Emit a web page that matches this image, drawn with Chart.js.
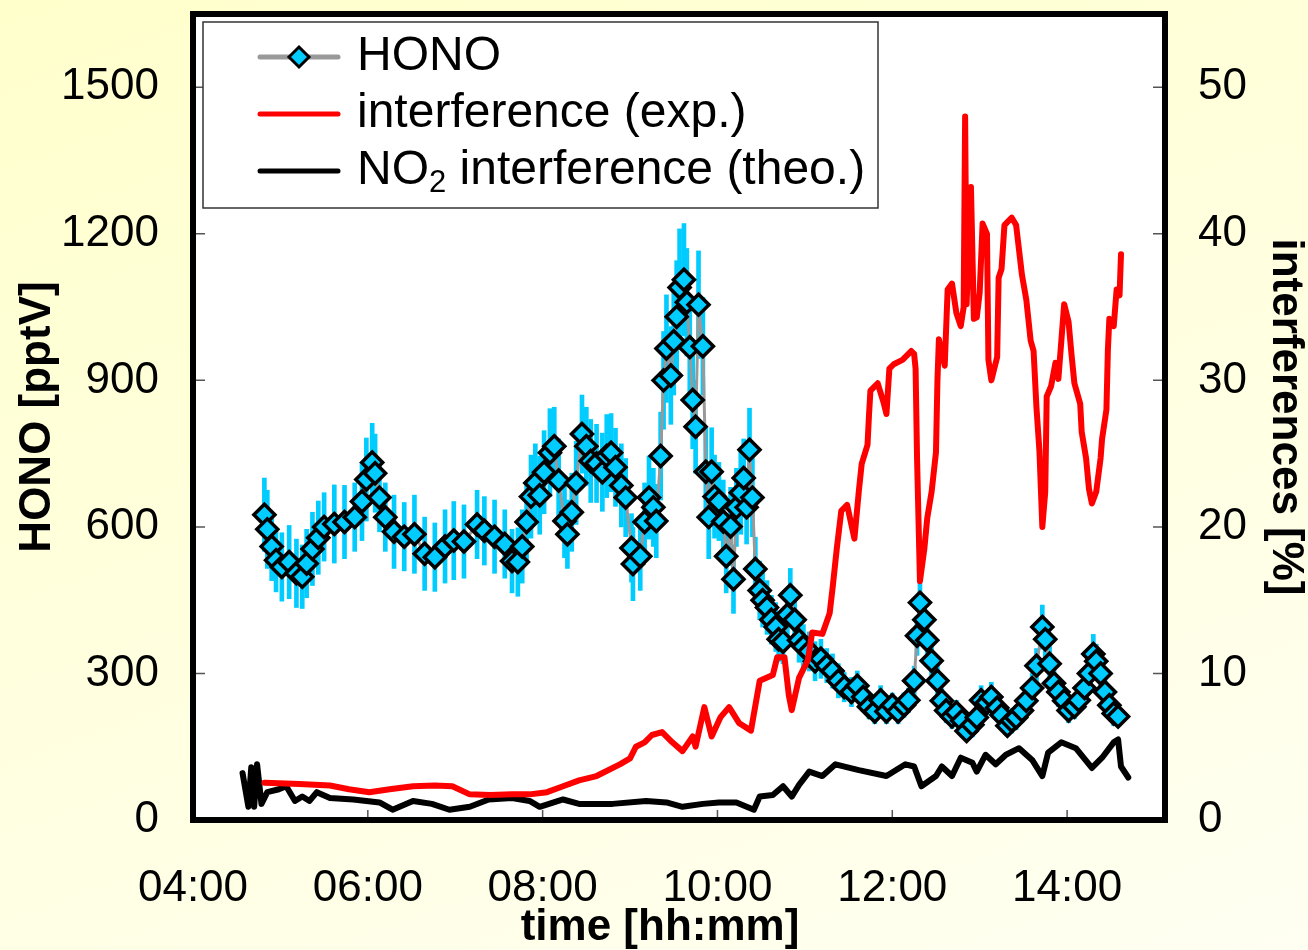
<!DOCTYPE html>
<html>
<head>
<meta charset="utf-8">
<script src="https://cdn.jsdelivr.net/npm/chart.js@4.4.0/dist/chart.umd.min.js"></script>
<style>
body { margin: 0; background: linear-gradient(160deg, #ffffcc 0%, #fffff2 100%); }
#wrap { width: 1308px; height: 950px; position: relative; }
</style>
</head>
<body>
<div id="wrap"><canvas id="myChart"></canvas></div>
<script>
// HONO [pptV] with error bars (left axis)
var honoTime = [
  "04:49","04:51","04:54","04:57","05:01","05:06","05:11","05:15","05:18","05:22",
  "05:26","05:30","05:37","05:44","05:51","05:56","05:59","06:03","06:05","06:08",
  "06:12","06:18","06:25","06:32","06:39","06:46","06:53","06:59","07:06","07:15",
  "07:20","07:27","07:34","07:39","07:43","07:46","07:49","07:52","07:55","07:58",
  "08:01","08:05","08:08","08:11","08:15","08:17","08:20","08:23","08:27","08:30",
  "08:33","08:37","08:41","08:44","08:47","08:50","08:54","08:57","09:01","09:02",
  "09:07","09:10","09:13","09:16","09:18","09:21","09:23","09:25","09:28","09:30",
  "09:32","09:34","09:37","09:39","09:41","09:43","09:45","09:47","09:50","09:52",
  "09:54","09:56","09:58","10:01","10:04","10:06","10:09","10:11","10:13","10:16",
  "10:18","10:20","10:22","10:24","10:26","10:29","10:31","10:34","10:37","10:40",
  "10:42","10:45","10:48","10:50","10:53","10:56","10:59","11:03","11:07","11:11",
  "11:15","11:19","11:23","11:27","11:32","11:36","11:40","11:44","11:48","11:52",
  "11:56","12:00","12:04","12:08","12:11","12:15","12:17","12:19","12:22","12:24",
  "12:27","12:31","12:34","12:37","12:41","12:44","12:48","12:51","12:55","12:58",
  "13:01","13:05","13:08","13:12","13:15","13:19","13:22","13:25","13:29","13:32",
  "13:36","13:39","13:43","13:45","13:48","13:51","13:54","13:58","14:01","14:05",
  "14:08","14:12","14:15","14:18","14:20","14:23","14:26","14:29","14:32","14:35"
];
var honoVal = [
  625, 595, 560, 532, 518, 528, 505, 498, 525, 555,
  578, 600, 606, 610, 620, 652, 697, 732, 710, 660,
  620, 590, 580, 585, 545, 538, 560, 572, 570, 605,
  592, 580, 565, 530, 528, 560, 610, 662, 690, 665,
  712, 752, 765, 695, 612, 585, 630, 690, 790, 765,
  735, 730, 712, 745, 752, 722, 685, 660, 557, 524,
  540, 610, 660, 640, 612, 745, 900, 965, 910, 980,
  1030, 1090, 1106, 1060, 968, 860, 805, 1055, 970, 713,
  620, 713, 662, 652, 611, 540, 601, 493, 640, 670,
  700, 640, 758, 660, 514, 470, 450, 435, 410, 395,
  370, 365, 420, 460, 410, 368, 355, 345, 325, 330,
  316, 305, 285, 272, 262, 275, 252, 232, 222, 245,
  222, 235, 222, 235, 245, 285, 377, 445, 410, 368,
  326, 285, 244, 224, 212, 220, 203, 182, 195, 210,
  245, 240, 252, 230, 215, 193, 203, 210, 224, 244,
  270, 316, 395, 370, 320, 280, 262, 244, 224, 232,
  245, 270, 300, 340, 325, 300, 262, 235, 218, 212
];
var honoErr = [
  75, 80, 70, 65, 70, 75, 70, 65, 70, 75,
  75, 70, 80, 75, 70, 80, 85, 80, 80, 70,
  70, 75, 70, 80, 75, 70, 75, 80, 75, 70,
  70, 75, 70, 65, 70, 75, 80, 85, 80, 80,
  85, 90, 80, 85, 75, 70, 80, 85, 80, 80,
  85, 80, 80, 85, 80, 80, 85, 80, 70, 75,
  70, 80, 85, 80, 75, 90, 100, 110, 100, 110,
  115, 120, 115, 110, 105, 100, 95, 110, 100, 90,
  85, 90, 85, 80, 85, 75, 80, 70, 80, 85,
  80, 75, 85, 80, 65, 60, 55, 55, 50, 50,
  45, 45, 50, 55, 50, 45, 45, 40, 40, 40,
  35, 35, 35, 30, 30, 30, 30, 25, 25, 30,
  25, 25, 25, 25, 25, 30, 40, 45, 40, 35,
  30, 30, 25, 25, 25, 25, 25, 20, 25, 25,
  30, 25, 30, 25, 25, 20, 25, 25, 25, 30,
  30, 35, 45, 40, 35, 30, 30, 25, 25, 25,
  25, 30, 35, 40, 35, 30, 30, 25, 25, 20
];

// interference (exp.) [%] (right axis)
var expTime = [
  "04:49","04:59","05:13","05:34","05:47","06:01","06:15","06:31","06:46","06:58",
  "07:10","07:24","07:39","07:51","08:03","08:14","08:25","08:37","08:53","09:00",
  "09:04","09:10","09:15","09:22","09:29","09:36","09:43","09:45","09:51","09:56",
  "10:02","10:08","10:15","10:23","10:29","10:38","10:41","10:46","10:49","10:51",
  "10:56","11:02","11:05","11:12","11:17","11:19","11:22","11:25","11:29","11:34",
  "11:37","11:39","11:43","11:44","11:45","11:50","11:54","11:56","11:58","12:01",
  "12:07","12:13","12:15","12:16","12:17","12:19","12:22","12:24","12:27","12:30",
  "12:31","12:32","12:36","12:38","12:41","12:44","12:47","12:49","12:50","12:51",
  "12:54","12:56","12:58","13:00","13:02","13:05","13:06","13:08","13:12","13:13",
  "13:15","13:17","13:22","13:25","13:29","13:32","13:35","13:37","13:39","13:41",
  "13:43","13:45","13:46","13:49","13:52","13:54","13:58","14:01","14:03","14:05",
  "14:09","14:10","14:13","14:15","14:17","14:20","14:23","14:24","14:27","14:28",
  "14:29","14:32","14:34","14:36","14:37"
];
var expVal = [
  2.55, 2.5, 2.45, 2.35, 2.1, 1.9, 2.1, 2.3, 2.35, 2.3,
  1.75, 1.7, 1.75, 1.75, 1.9, 2.3, 2.7, 3.0, 3.8, 4.2,
  5.0, 5.3, 5.8, 6.0, 5.3, 4.7, 5.7, 5.0, 7.7, 5.7,
  7.0, 7.7, 6.6, 6.1, 9.5, 9.9, 11.1, 11.1, 8.5, 7.5,
  9.7, 10.9, 12.8, 12.7, 14.1, 15.8, 18.6, 21.1, 21.5, 19.2,
  22.4, 24.3, 25.6, 27.6, 29.3, 29.8, 28.5, 27.7, 30.8, 31.1,
  31.4, 32.0, 31.8, 30.8, 24.7, 16.3, 18.5, 20.6, 22.4, 25.1,
  30.0, 32.8, 31.0, 36.2, 36.6, 34.6, 33.7, 35.0, 48.0, 35.2,
  43.2, 34.2, 34.3, 36.0, 40.7, 40.0, 31.4, 30.0, 31.6, 37.0,
  37.6, 40.6, 41.1, 40.6, 37.2, 35.5, 32.7, 32.0, 28.1, 25.2,
  20.0, 22.4, 28.9, 29.6, 31.2, 30.1, 35.2, 34.0, 31.8, 29.8,
  28.4, 26.5, 24.7, 22.6, 21.6, 22.4, 24.7, 26.0, 28.0, 32.1,
  34.2, 33.7, 36.2, 35.8, 38.6
];

// NO2 interference (theo.) [%] (right axis)
var theoTime = [
  "04:34","04:38","04:40","04:42","04:44","04:47","04:51","04:59","05:04","05:10",
  "05:15","05:20","05:25","05:34","05:50","06:08","06:17","06:31","06:44","06:56",
  "07:10","07:23","07:39","07:51","07:58","08:14","08:25","08:48","09:11","09:25",
  "09:36","09:50","10:01","10:13","10:25","10:29","10:38","10:45","10:51","10:56",
  "11:03","11:12","11:21","11:37","11:56","12:09","12:15","12:20","12:30","12:34",
  "12:41","12:47","12:55","12:58","13:04","13:11","13:18","13:27","13:36","13:43",
  "13:47","13:56","14:06","14:17","14:24","14:32","14:35","14:37","14:42"
];
var theoVal = [
  3.2, 0.9, 3.6, 0.9, 3.8, 1.1, 1.9, 2.1, 2.3, 1.3,
  1.6, 1.3, 1.9, 1.5, 1.4, 1.2, 0.7, 1.3, 1.1, 0.7,
  0.9, 1.4, 1.5, 1.3, 0.9, 1.4, 1.1, 1.1, 1.3, 1.2,
  0.9, 1.1, 1.2, 1.2, 0.7, 1.6, 1.7, 2.3, 1.6, 2.4,
  3.3, 3.0, 3.8, 3.4, 3.0, 3.8, 3.65, 2.3, 3.0, 3.65,
  3.0, 4.25, 3.9, 3.3, 4.45, 3.8, 4.45, 4.9, 4.1, 3.0,
  4.6, 5.3, 4.9, 3.55, 4.25, 5.3, 5.5, 3.65, 2.9
];

var xTicks = [4, 6, 8, 10, 12, 14];

function hm(s) {
  var p = s.split(':');
  return parseInt(p[0], 10) + parseInt(p[1], 10) / 60;
}
function fmt(v) {
  var h = Math.floor(v + 1e-6);
  var m = Math.round((v - h) * 60);
  return (h < 10 ? '0' : '') + h + ':' + (m < 10 ? '0' : '') + m;
}

var honoPts = honoTime.map(function (t, i) { return { x: hm(t), y: honoVal[i] }; });
var errPts = honoTime.map(function (t, i) { return { x: hm(t), y: [honoVal[i] - honoErr[i], honoVal[i] + honoErr[i]] }; });
var expPts = expTime.map(function (t, i) { return { x: hm(t), y: expVal[i] }; });
var theoPts = theoTime.map(function (t, i) { return { x: hm(t), y: theoVal[i] }; });

var FONT = '"Liberation Sans", Arial, sans-serif';

function noPad(s) {
  s.paddingTop = 0; s.paddingBottom = 0; s.paddingLeft = 0; s.paddingRight = 0;
}

var framePlugin = {
  id: 'frame',
  beforeDatasetsDraw: function (chart) {
    var a = chart.chartArea, c = chart.ctx;
    c.save();
    c.fillStyle = '#ffffff';
    c.fillRect(a.left, a.top, a.right - a.left, a.bottom - a.top);
    c.restore();
  },
  afterDraw: function (chart) {
    var a = chart.chartArea, c = chart.ctx;
    c.save();
    // inward tick marks
    c.strokeStyle = '#555';
    c.lineWidth = 1.5;
    c.beginPath();
    chart.scales.y.ticks.forEach(function (t) {
      var py = chart.scales.y.getPixelForValue(t.value);
      c.moveTo(a.left, py); c.lineTo(a.left + 12, py);
    });
    chart.scales.y2.ticks.forEach(function (t) {
      var py = chart.scales.y2.getPixelForValue(t.value);
      c.moveTo(a.right - 12, py); c.lineTo(a.right, py);
    });
    chart.scales.x.ticks.forEach(function (t) {
      var px = chart.scales.x.getPixelForValue(t.value);
      c.moveTo(px, a.bottom); c.lineTo(px, a.bottom - 10);
    });
    c.stroke();
    // frame
    c.strokeStyle = '#000';
    c.lineWidth = 6;
    c.strokeRect(a.left, a.top, a.right - a.left, a.bottom - a.top);

    // x axis title
    c.fillStyle = '#000';
    c.textAlign = 'center';
    c.textBaseline = 'middle';
    c.font = 'bold 44px ' + FONT;
    c.fillText('time [hh:mm]', 660, 928);

    // legend
    var lx = 203, ly = 22, lw = 675, lh = 186;
    c.fillStyle = '#fff';
    c.fillRect(lx, ly, lw, lh);
    c.strokeStyle = '#333';
    c.lineWidth = 1.5;
    c.strokeRect(lx, ly, lw, lh);
    var rows = [57, 114, 171];
    c.lineCap = 'round';
    c.lineWidth = 5;
    c.strokeStyle = '#999';
    c.beginPath(); c.moveTo(260, rows[0]); c.lineTo(338, rows[0]); c.stroke();
    c.strokeStyle = '#ff0000';
    c.beginPath(); c.moveTo(260, rows[1]); c.lineTo(338, rows[1]); c.stroke();
    c.strokeStyle = '#000';
    c.beginPath(); c.moveTo(260, rows[2]); c.lineTo(338, rows[2]); c.stroke();
    // diamond marker
    c.beginPath();
    c.moveTo(299, rows[0] - 10); c.lineTo(309, rows[0]); c.lineTo(299, rows[0] + 10); c.lineTo(289, rows[0]);
    c.closePath();
    c.fillStyle = '#00ccff'; c.fill();
    c.lineWidth = 3; c.strokeStyle = '#000'; c.stroke();

    c.fillStyle = '#000';
    c.textBaseline = 'middle';
    c.textAlign = 'left';
    c.font = '48px ' + FONT;
    c.fillText('HONO', 357, rows[0]);
    c.fillText('interference (exp.)', 357, rows[1]);
    c.fillText('NO', 357, rows[2]);
    var w = c.measureText('NO').width;
    c.font = '31px ' + FONT;
    c.fillText('2', 357 + w, rows[2] + 12);
    var w2 = c.measureText('2').width;
    c.font = '48px ' + FONT;
    c.fillText(' interference (theo.)', 357 + w + w2, rows[2]);
    c.restore();
  }
};

var ctx = document.getElementById('myChart').getContext('2d');
var myChart = new Chart(ctx, {
  data: {
    datasets: [
      {
        type: 'line',
        label: 'interference (exp.)',
        data: expPts,
        yAxisID: 'y2',
        borderColor: '#ff0000',
        borderWidth: 6,
        borderJoinStyle: 'round',
        borderCapStyle: 'round',
        pointRadius: 0,
        order: 1
      },
      {
        type: 'line',
        label: 'NO2 interference (theo.)',
        data: theoPts,
        yAxisID: 'y2',
        borderColor: '#000000',
        borderWidth: 6,
        borderJoinStyle: 'round',
        borderCapStyle: 'round',
        pointRadius: 0,
        order: 2
      },
      {
        type: 'line',
        label: 'HONO',
        data: honoPts,
        yAxisID: 'y',
        borderColor: '#999999',
        borderWidth: 3,
        pointStyle: 'rectRot',
        pointRadius: 10.5,
        pointBackgroundColor: '#00ccff',
        pointBorderColor: '#000000',
        pointBorderWidth: 3.5,
        order: 3
      },
      {
        type: 'bar',
        label: 'HONO error',
        data: errPts,
        yAxisID: 'y',
        backgroundColor: '#00ccff',
        barThickness: 4,
        order: 4
      }
    ]
  },
  options: {
    responsive: true,
    maintainAspectRatio: false,
    animation: false,
    layout: { padding: { top: 10, left: 0, right: 0, bottom: 0 } },
    plugins: { legend: { display: false }, tooltip: { enabled: false } },
    scales: {
      x: {
        type: 'linear',
        position: 'bottom',
        min: 4,
        max: 15.12,
        offset: false,
        afterFit: function (s) { s.height = 130; noPad(s); },
        afterBuildTicks: function (s) { s.ticks = xTicks.map(function (v) { return { value: v }; }); },
        grid: { display: false },
        border: { display: false },
        ticks: {
          font: { family: FONT, size: 44 },
          color: '#000',
          padding: 34,
          maxRotation: 0,
          autoSkip: false,
          callback: function (v) { return fmt(v); }
        },
        title: { display: false }
      },
      y: {
        position: 'left',
        min: 0,
        max: 1650,
        afterFit: function (s) { s.width = 193; noPad(s); },
        grid: { display: false },
        border: { display: false },
        ticks: {
          stepSize: 300,
          includeBounds: false,
          font: { family: FONT, size: 44 },
          color: '#000',
          padding: 26,
          callback: function (v) { return String(v); }
        },
        title: {
          display: true,
          text: 'HONO [pptV]',
          color: '#000',
          font: { family: FONT, size: 44, weight: 'bold', lineHeight: 1 },
          padding: { top: 16, bottom: 16 }
        }
      },
      y2: {
        position: 'right',
        min: 0,
        max: 55,
        afterFit: function (s) { s.width = 143; noPad(s); },
        grid: { display: false },
        border: { display: false },
        ticks: {
          stepSize: 10,
          includeBounds: false,
          font: { family: FONT, size: 44 },
          color: '#000',
          padding: 25,
          callback: function (v) { return String(v); }
        },
        title: {
          display: true,
          text: 'interferences [%]',
          color: '#000',
          font: { family: FONT, size: 44, weight: 'bold', lineHeight: 1 },
          padding: { top: 1, bottom: 1 }
        }
      }
    }
  },
  plugins: [framePlugin]
});
</script>
</body>
</html>
